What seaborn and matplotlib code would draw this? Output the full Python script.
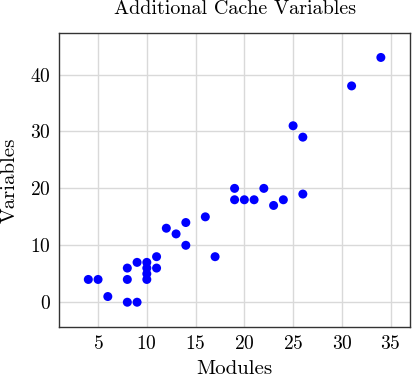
import matplotlib
matplotlib.use("Agg")
import matplotlib.pyplot as plt
import seaborn as sns
import pandas as pd

# data
modules = [4, 5, 6, 8, 9, 8, 8, 9, 10, 10, 10, 10, 11, 11, 12, 13, 14, 14, 16, 17,
           19, 19, 20, 21, 22, 23, 24, 25, 26, 26, 31, 34]
variables = [4, 4, 1, 0, 0, 4, 6, 7, 7, 6, 5, 4, 8, 6, 13, 12, 14, 10, 15, 8,
             20, 18, 18, 18, 20, 17, 18, 31, 29, 19, 38, 43]
x_ticks = [5, 10, 15, 20, 25, 30, 35]
y_ticks = [0, 10, 20, 30, 40]

df = pd.DataFrame({"Modules": modules, "Variables": variables})

sns.set_style("whitegrid")
plt.rcParams["font.family"] = ["cmr10", "DejaVu Serif"]
plt.rcParams["axes.formatter.use_mathtext"] = True
plt.rcParams["mathtext.fontset"] = "cm"
plt.rcParams["text.color"] = "black"
plt.rcParams["axes.labelcolor"] = "black"
plt.rcParams["xtick.color"] = "black"
plt.rcParams["ytick.color"] = "black"

fig = plt.figure(figsize=(4.13, 3.79), dpi=100)
ax = fig.add_axes([0.143, 0.138, 0.850, 0.775])

sns.scatterplot(data=df, x="Modules", y="Variables", color="#0000ff",
                s=42, edgecolor="none", ax=ax)

ax.set_xlim(1, 37)
ax.set_ylim(-4.3, 47.3)
ax.set_xticks(x_ticks)
ax.set_yticks(y_ticks)
ax.grid(True, color="#d9d9d9", linewidth=1)
for sp in ax.spines.values():
    sp.set_color("#333333")
    sp.set_linewidth(1)
ax.tick_params(labelsize=14, length=0, pad=6)
ax.set_xlabel("Modules", fontsize=15, labelpad=5)
ax.set_ylabel("Variables", fontsize=15, labelpad=8)
ax.set_title("Additional Cache Variables", fontsize=14.5, pad=14)

fig.savefig("out.png", dpi=100)
